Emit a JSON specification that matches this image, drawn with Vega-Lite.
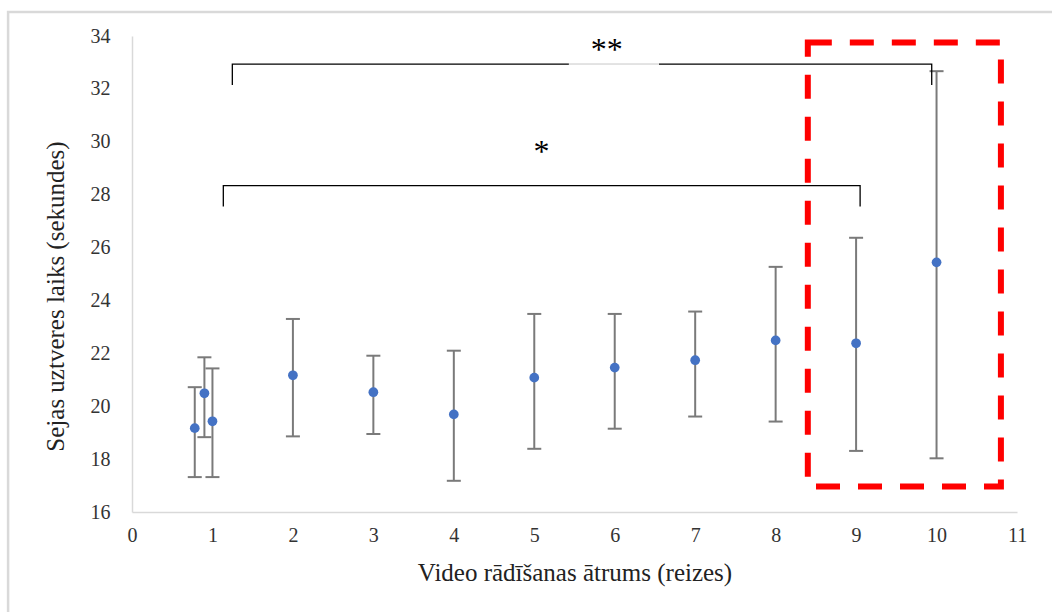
{
  "$schema": "https://vega.github.io/schema/vega-lite/v6.json",
  "width": 885,
  "height": 476,
  "autosize": {"type": "none"},
  "padding": {"left": 132, "top": 36, "right": 35, "bottom": 100},
  "background": "white",
  "config": {
    "view": {"stroke": null},
    "font": "Liberation Serif"
  },
  "datasets": {
    "speeds": [
      {"speed": 0.78, "mean": 19.17, "lo": 17.32, "hi": 20.72},
      {"speed": 0.9, "mean": 20.49, "lo": 18.83, "hi": 21.85},
      {"speed": 1.0, "mean": 19.43, "lo": 17.32, "hi": 21.43},
      {"speed": 2, "mean": 21.17, "lo": 18.86, "hi": 23.30},
      {"speed": 3, "mean": 20.53, "lo": 18.95, "hi": 21.91},
      {"speed": 4, "mean": 19.69, "lo": 17.18, "hi": 22.10},
      {"speed": 5, "mean": 21.08, "lo": 18.39, "hi": 23.49},
      {"speed": 6, "mean": 21.46, "lo": 19.15, "hi": 23.49},
      {"speed": 7, "mean": 21.74, "lo": 19.61, "hi": 23.58},
      {"speed": 8, "mean": 22.49, "lo": 19.42, "hi": 25.27},
      {"speed": 9, "mean": 22.38, "lo": 18.31, "hi": 26.37},
      {"speed": 10, "mean": 25.44, "lo": 18.03, "hi": 32.67}
    ],
    "brackets": [
      {"part": "top-left", "step": 0, "x": 1.247, "y": 32.15},
      {"part": "top-left", "step": 1, "x": 1.247, "y": 32.94},
      {"part": "top-left", "step": 2, "x": 5.43, "y": 32.94},
      {"part": "top-right", "step": 0, "x": 6.55, "y": 32.94},
      {"part": "top-right", "step": 1, "x": 9.94, "y": 32.94},
      {"part": "top-right", "step": 2, "x": 9.94, "y": 32.15},
      {"part": "low", "step": 0, "x": 1.135, "y": 27.55},
      {"part": "low", "step": 1, "x": 1.135, "y": 28.34},
      {"part": "low", "step": 2, "x": 9.05, "y": 28.34},
      {"part": "low", "step": 3, "x": 9.05, "y": 27.55}
    ]
  },
  "layer": [
    {
      "data": {"values": [{"x1": -1.54, "x2": 12.5, "y1": 34.91, "y2": 11.0}]},
      "mark": {"type": "rect", "fill": null, "stroke": "#d9d9d9", "strokeWidth": 2.5, "clip": false},
      "encoding": {
        "x": {"field": "x1", "type": "quantitative", "scale": {"domain": [0, 11], "nice": false, "zero": false},
          "axis": {
            "values": [0, 1, 2, 3, 4, 5, 6, 7, 8, 9, 10, 11],
            "format": "d",
            "grid": false,
            "ticks": false,
            "domainColor": "#d9d9d9",
            "domainWidth": 1.5,
            "labelFont": "Liberation Serif",
            "labelFontSize": 20,
            "labelColor": "#333333",
            "labelPadding": 13,
            "labelFlush": false,
            "title": "Video rādīšanas ātrums (reizes)",
            "titleFont": "Liberation Serif",
            "titleFontSize": 25,
            "titleFontWeight": "normal",
            "titleColor": "#222222",
            "titlePadding": 15
          }
        },
        "x2": {"field": "x2"},
        "y": {"field": "y1", "type": "quantitative", "scale": {"domain": [16, 34], "nice": false, "zero": false},
          "axis": {
            "values": [16, 18, 20, 22, 24, 26, 28, 30, 32, 34],
            "grid": false,
            "ticks": false,
            "domainColor": "#d9d9d9",
            "domainWidth": 1.5,
            "labelFont": "Liberation Serif",
            "labelFontSize": 20,
            "labelColor": "#333333",
            "labelPadding": 22,
            "labelFlush": false,
            "title": "Sejas uztveres laiks (sekundes)",
            "titleFont": "Liberation Serif",
            "titleFontSize": 25,
            "titleFontWeight": "normal",
            "titleColor": "#222222",
            "titlePadding": 22,
            "titleY": 260
          }
        },
        "y2": {"field": "y2"}
      }
    },
    {
      "data": {"name": "speeds"},
      "mark": {"type": "rule", "color": "#7a7a7a", "strokeWidth": 2},
      "encoding": {
        "x": {"field": "speed", "type": "quantitative"},
        "y": {"field": "lo", "type": "quantitative"},
        "y2": {"field": "hi"}
      }
    },
    {
      "data": {"name": "speeds"},
      "transform": [{"fold": ["lo", "hi"], "as": ["end", "value"]}],
      "mark": {"type": "tick", "orient": "horizontal", "color": "#7a7a7a", "size": 14, "thickness": 2, "opacity": 1},
      "encoding": {
        "x": {"field": "speed", "type": "quantitative"},
        "y": {"field": "value", "type": "quantitative"}
      }
    },
    {
      "data": {"name": "speeds"},
      "mark": {"type": "circle", "color": "#4472c4", "size": 95, "opacity": 1},
      "encoding": {
        "x": {"field": "speed", "type": "quantitative"},
        "y": {"field": "mean", "type": "quantitative"}
      }
    },
    {
      "data": {"values": [{"x1": 8.40, "x2": 10.80, "y1": 33.75, "y2": 16.96}]},
      "mark": {"type": "rect", "fill": null, "stroke": "#ff0000", "strokeWidth": 6, "strokeDash": [24, 18], "clip": false},
      "encoding": {
        "x": {"field": "x1", "type": "quantitative"},
        "x2": {"field": "x2"},
        "y": {"field": "y1", "type": "quantitative"},
        "y2": {"field": "y2"}
      }
    },
    {
      "data": {"values": [{"x1": 5.43, "x2": 6.55, "y": 32.94}]},
      "mark": {"type": "rule", "color": "#c8c8c8", "strokeWidth": 1},
      "encoding": {
        "x": {"field": "x1", "type": "quantitative"},
        "x2": {"field": "x2"},
        "y": {"field": "y", "type": "quantitative"}
      }
    },
    {
      "data": {"name": "brackets"},
      "mark": {"type": "line", "color": "#000000", "strokeWidth": 1.3, "clip": false},
      "encoding": {
        "x": {"field": "x", "type": "quantitative"},
        "y": {"field": "y", "type": "quantitative"},
        "detail": {"field": "part"},
        "order": {"field": "step"}
      }
    },
    {
      "data": {"values": [{"x": 5.90, "y": 33.10, "label": "**"}, {"x": 5.09, "y": 29.25, "label": "*"}]},
      "mark": {"type": "text", "font": "Liberation Serif", "fontSize": 32, "align": "center", "baseline": "alphabetic", "color": "#000000"},
      "encoding": {
        "x": {"field": "x", "type": "quantitative"},
        "y": {"field": "y", "type": "quantitative"},
        "text": {"field": "label"}
      }
    }
  ]
}
